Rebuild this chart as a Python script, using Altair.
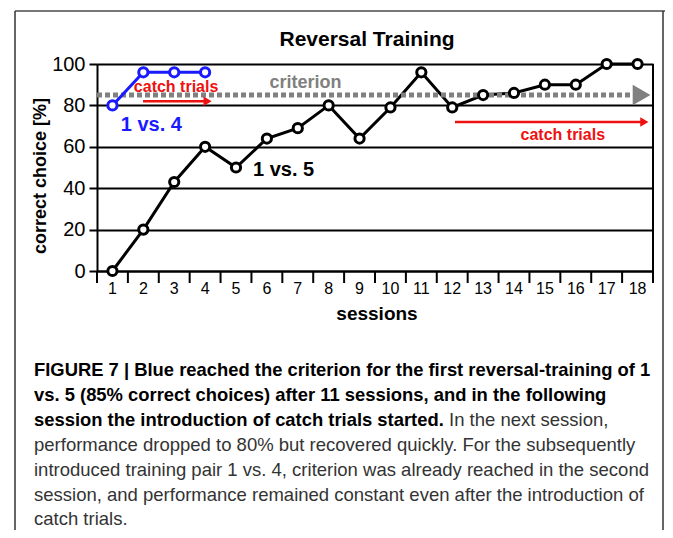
import altair as alt
import pandas as pd

# ---------------- data ----------------
sessions_15 = list(range(1, 19))
values_15 = [0, 20, 43, 60, 50, 64, 69, 80, 64, 79, 96, 79, 85, 86, 90, 90, 100, 100]
sessions_14 = [1, 2, 3, 4]
values_14 = [80, 96, 96, 96]
criterion = 85
x_ticks = list(range(1, 19))
y_ticks = [0, 20, 40, 60, 80, 100]
band_edges = [i + 0.5 for i in range(0, 19)]

title_text = "Reversal Training"
x_title = "sessions"
y_title = "correct choice [%]"
caption_bold = [
    "FIGURE 7 | Blue reached the criterion for the first reversal-training of 1",
    "vs. 5 (85% correct choices) after 11 sessions, and in the following",
    "session the introduction of catch trials started.",
]
caption_normal_l3 = "In the next session,"
caption_normal = [
    "performance dropped to 80% but recovered quickly. For the subsequently",
    "introduced training pair 1 vs. 4, criterion was already reached in the second",
    "session, and performance remained constant even after the introduction of",
    "catch trials.",
]

W, H = 556, 207
FONT = "Liberation Sans, Arial, Helvetica, sans-serif"
CAPFONT = "Liberation Sans, Arial, Helvetica, sans-serif"

df15 = pd.DataFrame({"session": sessions_15, "value": values_15})
df14 = pd.DataFrame({"session": sessions_14, "value": values_14})

xs = alt.Scale(domain=[0.5, 18.5], nice=False, zero=False)
ys = alt.Scale(domain=[0, 100], nice=False)

X = alt.X("session:Q", scale=xs,
          axis=alt.Axis(values=x_ticks, ticks=False, grid=False, labels=False,
                        domainColor="black", domainWidth=2, title=None))
Y = alt.Y("value:Q", scale=ys,
          axis=alt.Axis(values=y_ticks, grid=True, gridColor="black", gridWidth=2,
                        gridOpacity=1, domainColor="black", domainWidth=2,
                        tickColor="black", tickWidth=2, tickSize=8,
                        labelFontSize=20, labelFont=FONT, labelColor="black",
                        labelPadding=4, title=None))

base15 = alt.Chart(df15)
line15 = base15.mark_line(color="black", strokeWidth=3).encode(x=X, y=Y)
pts15 = base15.mark_point(shape="circle", filled=False, fill="white", fillOpacity=1,
                          stroke="black", strokeWidth=3, size=85, opacity=1).encode(
    x="session:Q", y="value:Q")

base14 = alt.Chart(df14)
line14 = base14.mark_line(color="#1a1aff", strokeWidth=3).encode(x="session:Q", y="value:Q")
pts14 = base14.mark_point(shape="circle", filled=False, fill="white", fillOpacity=1,
                          stroke="#1a1aff", strokeWidth=3, size=85, opacity=1).encode(
    x="session:Q", y="value:Q")

# x tick labels (category labels centred between tick marks)
xlab_df = pd.DataFrame({"x": x_ticks, "t": [str(v) for v in x_ticks]})
x_labels = alt.Chart(xlab_df).mark_text(font=FONT, fontSize=16, color="black",
                                        baseline="middle", align="center").encode(
    x="x:Q", y=alt.value(H + 18), text="t:N")

# criterion dashed line with arrow
crit_df = pd.DataFrame({"x1": [0.5], "x2": [17.8], "y": [criterion]})
crit_line = alt.Chart(crit_df).mark_rule(color="#808080", strokeWidth=5,
                                         strokeDash=[5, 3]).encode(
    x="x1:Q", x2="x2:Q", y="y:Q")
crit_head = alt.Chart(pd.DataFrame({"x": [18.13], "y": [criterion]})).mark_point(
    shape="triangle-right", filled=True, color="#808080", size=420, opacity=1).encode(
    x="x:Q", y="y:Q")

# red catch-trial arrows
arrows_df = pd.DataFrame({"x1": [1.99, 12.09], "x2": [4.05, 18.2], "y": [82, 72]})
arrow_lines = alt.Chart(arrows_df).mark_rule(color="#ee1111", strokeWidth=2.5).encode(
    x="x1:Q", x2="x2:Q", y="y:Q")
heads_df = pd.DataFrame({"x": [4.08, 18.22], "y": [82, 72]})
arrow_heads = alt.Chart(heads_df).mark_point(shape="triangle-right", filled=True,
                                             color="#ee1111", size=90, opacity=1).encode(
    x="x:Q", y="y:Q")

# annotations in data coordinates
ann_df = pd.DataFrame({
    "x": [3.06, 15.58, 7.25, 2.26, 5.55],
    "y": [89, 65.5, 91, 70.5, 49],
    "text": ["catch trials", "catch trials", "criterion", "1 vs. 4", "1 vs. 5"],
    "color": ["#ee1111", "#ee1111", "#808080", "#1a1aff", "black"],
    "size": [16, 16, 18, 20, 20],
    "align": ["center", "center", "center", "center", "left"],
})
ann_center = alt.Chart(ann_df[ann_df["align"] == "center"]).mark_text(
    font=FONT, fontWeight="bold", baseline="middle", align="center").encode(
    x="x:Q", y="y:Q", text="text:N",
    color=alt.Color("color:N", scale=None), size=alt.Size("size:Q", scale=None))
ann_left = alt.Chart(ann_df[ann_df["align"] == "left"]).mark_text(
    font=FONT, fontWeight="bold", baseline="middle", align="left").encode(
    x="x:Q", y="y:Q", text="text:N",
    color=alt.Color("color:N", scale=None), size=alt.Size("size:Q", scale=None))

# tick marks at band boundaries below the baseline
ticks_df = pd.DataFrame({"x": band_edges})
tick_rules = alt.Chart(ticks_df).mark_rule(color="black", strokeWidth=2).encode(
    x="x:Q", y=alt.value(H), y2=alt.value(H + 12))
right_border = alt.Chart(pd.DataFrame({"x": [18.5]})).mark_rule(
    color="black", strokeWidth=2).encode(x="x:Q", y=alt.value(0), y2=alt.value(H))

# titles
title_mark = alt.Chart(pd.DataFrame({"t": [title_text]})).mark_text(
    font=FONT, fontWeight="bold", fontSize=21, color="black", align="center",
    baseline="middle").encode(text="t:N", x=alt.value(270), y=alt.value(-24))
xtitle = alt.Chart(pd.DataFrame({"t": [x_title]})).mark_text(
    font=FONT, fontWeight="bold", fontSize=19, color="black", align="center",
    baseline="middle").encode(text="t:N", x=alt.value(280), y=alt.value(250))
ytitle = alt.Chart(pd.DataFrame({"t": [y_title]})).mark_text(
    font=FONT, fontWeight="bold", fontSize=18, color="black", align="center",
    baseline="middle", angle=270).encode(text="t:N", x=alt.value(-56), y=alt.value(112))

# frame around the figure
frame_top = alt.Chart(pd.DataFrame({"a": [0]})).mark_rule(color="#777777", strokeWidth=2).encode(
    x=alt.value(-82), x2=alt.value(580), y=alt.value(-53))
frame_left = alt.Chart(pd.DataFrame({"a": [0]})).mark_rule(color="#333333", strokeWidth=1.5).encode(
    x=alt.value(-82), y=alt.value(-53), y2=alt.value(480))
frame_right = alt.Chart(pd.DataFrame({"a": [0]})).mark_rule(color="#333333", strokeWidth=1.5).encode(
    x=alt.value(566), y=alt.value(-53), y2=alt.value(480))

# caption
CAP_X = -63
cap_y = [306, 331, 356, 381, 406, 431, 455]
cap_layers = []
for i, line in enumerate(caption_bold):
    cap_layers.append(alt.Chart(pd.DataFrame({"t": [line]})).mark_text(
        font=CAPFONT, fontWeight="bold", fontSize=18.4, color="black", align="left",
        baseline="middle").encode(text="t:N", x=alt.value(CAP_X), y=alt.value(cap_y[i])))
cap_layers.append(alt.Chart(pd.DataFrame({"t": [caption_normal_l3]})).mark_text(
    font=CAPFONT, fontSize=18.5, color="#333333", align="left",
    baseline="middle").encode(text="t:N", x=alt.value(352), y=alt.value(cap_y[2])))
for j, line in enumerate(caption_normal):
    cap_layers.append(alt.Chart(pd.DataFrame({"t": [line]})).mark_text(
        font=CAPFONT, fontSize=18.5, color="#333333", align="left",
        baseline="middle").encode(text="t:N", x=alt.value(CAP_X), y=alt.value(cap_y[3 + j])))

chart = alt.layer(
    line15, crit_line, crit_head, arrow_lines, arrow_heads,
    line14, pts15, pts14, ann_center, ann_left, tick_rules, right_border, x_labels,
    title_mark, xtitle, ytitle, frame_top, frame_left, frame_right, *cap_layers
).properties(
    width=W, height=H,
    autosize=alt.AutoSizeParams(type="none"),
    padding={"left": 89, "top": 56, "right": 12, "bottom": 259},
).configure_view(stroke=None).configure(background="white")

chart.save("out.html", embed_options={"renderer": "svg", "actions": False})
